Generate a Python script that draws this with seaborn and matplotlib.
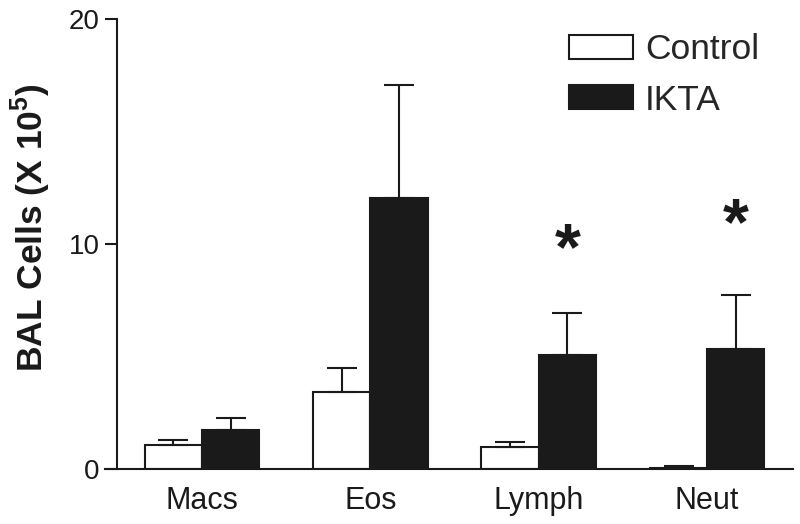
import matplotlib
matplotlib.use('Agg')
import matplotlib.pyplot as plt
import seaborn as sns
import pandas as pd
from matplotlib.patches import Patch

cells = ['Macs', 'Eos', 'Lymph', 'Neut']
groups = ['Control', 'IKTA']
control_mean = [1.07, 3.44, 0.96, 0.06]
control_sem = [0.22, 1.04, 0.23, 0.07]
ikta_mean = [1.72, 12.06, 5.07, 5.33]
ikta_sem = [0.56, 5.0, 1.85, 2.42]
stars = ['', '', '*', '*']
star_y = [None, None, 9.65, 10.75]

ink = '#1a1a1a'

df = pd.DataFrame({
    'cell': cells * 2,
    'group': ['Control'] * 4 + ['IKTA'] * 4,
    'value': control_mean + ikta_mean,
})

sns.set_style('ticks')
plt.rcParams['font.family'] = ['Liberation Sans', 'DejaVu Sans']
plt.rcParams['mathtext.fontset'] = 'custom'
plt.rcParams['mathtext.rm'] = 'Liberation Sans'
plt.rcParams['mathtext.bf'] = 'Liberation Sans:bold'

fig = plt.figure(figsize=(8, 5.24), dpi=100)
ax = fig.add_axes([105 / 800, 55 / 524, 688 / 800, 450 / 524])

sns.barplot(data=df, x='cell', y='value', hue='group', order=cells,
            hue_order=groups, palette={'Control': 'white', 'IKTA': ink},
            width=0.68, errorbar=None, edgecolor=ink, linewidth=1.5,
            legend=False, ax=ax)

# upper-only error bars on top of the bars
ctrl_patches = ax.patches[:4]
ikta_patches = ax.patches[4:8]
for patches, sems in [(ctrl_patches, control_sem), (ikta_patches, ikta_sem)]:
    for p, e in zip(patches, sems):
        xc = p.get_x() + p.get_width() / 2
        ax.errorbar(xc, p.get_height(), yerr=[[0], [e]], fmt='none',
                    ecolor=ink, elinewidth=1.5, capsize=10.5, capthick=1.5,
                    zorder=1)

for p, s, sy in zip(ikta_patches, stars, star_y):
    if s:
        ax.text(p.get_x() + p.get_width() / 2, sy, s, ha='center',
                va='center', fontsize=48, fontweight='bold', color=ink)

ax.set_xlim(-0.576, 3.51)
ax.set_ylim(0, 20)
ax.set_yticks([0, 10, 20])
sns.despine(ax=ax)
ax.spines['left'].set_position(('data', -0.505))
for sp in ['left', 'bottom']:
    ax.spines[sp].set_linewidth(1.5)
    ax.spines[sp].set_color(ink)
ax.tick_params(axis='y', length=8.6, width=1.5, color=ink, pad=4,
               labelsize=20, labelcolor=ink)
ax.tick_params(axis='x', length=0, pad=12, labelsize=22, labelcolor=ink)
ax.set_xlabel('')
ax.set_ylabel(r'BAL Cells (X 10$^{\mathbf{5}}$)', fontsize=25.5,
              fontweight='bold', color=ink)
ax.yaxis.set_label_coords(-0.0756, 0.536)

handles = [Patch(facecolor='white', edgecolor=ink, linewidth=1.5),
           Patch(facecolor=ink, edgecolor=ink, linewidth=1.5)]
ax.legend(handles, groups, loc='upper left',
          bbox_to_anchor=(569 / 800, 1 - 33 / 524),
          bbox_transform=fig.transFigure, frameon=False, fontsize=25.5,
          handlelength=1.8, handleheight=0.66, handletextpad=0.35,
          labelspacing=0.5, borderpad=0, borderaxespad=0)

fig.savefig('out.png', dpi=100)
